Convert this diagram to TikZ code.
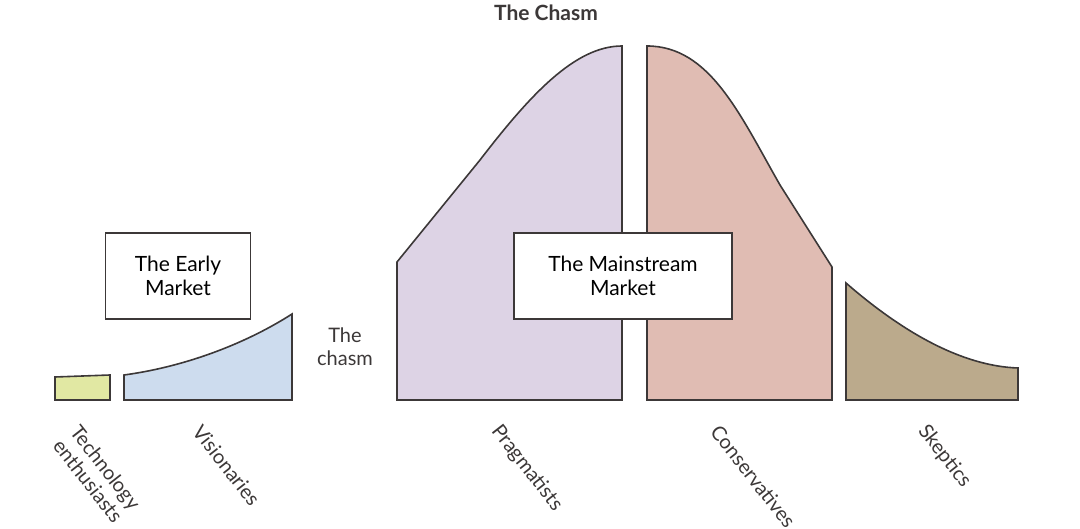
\documentclass[tikz,border=0pt]{standalone}
\usepackage{fontspec}
\setmainfont{Lato}
\usepackage{tikz}
\usetikzlibrary{positioning}

\definecolor{edgegray}{HTML}{3C3838}
\definecolor{techcol}{HTML}{E1E8A3}
\definecolor{viscol}{HTML}{CDDCEE}
\definecolor{pragcol}{HTML}{DDD3E5}
\definecolor{conscol}{HTML}{E0BCB3}
\definecolor{skepcol}{HTML}{BBAA8C}

\tikzset{
  segment/.style={draw=edgegray,line width=1.6pt,line join=miter},
  marketbox/.style={draw=edgegray,line width=1.6pt,fill=white,align=center,inner sep=0pt,font=\fontsize{21}{24}\selectfont},
  group/.style={rotate=-52,anchor=west,align=center,text=edgegray,font=\fontsize{20}{22}\selectfont}
}

\begin{document}
\begin{tikzpicture}[x=1pt,y=-1pt]
\useasboundingbox (0,0) rectangle (1080,529);
% the bell curve, cut in segments
\path[segment,fill=techcol] (55,400) -- (55,377) -- (110,375) -- (110,400) -- cycle;
\path[segment,fill=viscol] (124,400) -- (124,375) .. controls (190,366) and (250,341) .. (292,314) -- (292,400) -- cycle;
\path[segment,fill=pragcol] (397,400) -- (397,262) -- (480,160) .. controls (530,95) and (575,46) .. (622,46) -- (622,400) -- cycle;
\path[segment,fill=conscol] (647,400) -- (647,46) .. controls (710,46) and (740,115) .. (780,185) -- (832,267) -- (832,400) -- cycle;
\path[segment,fill=skepcol] (846,400) -- (846,283) .. controls (900,330) and (960,366) .. (1018,368) -- (1018,400) -- cycle;

\node[font=\bfseries\fontsize{21}{23}\selectfont,text=edgegray] (title) at (546,13) {The Chasm};
\node[marketbox,minimum width=145pt,minimum height=86pt] (early) at (178,276) {The Early\\Market};
\node[marketbox,minimum width=218pt,minimum height=86pt] (main) at (623,276) {The Mainstream\\Market};
\node[align=center,text=edgegray,font=\fontsize{20}{23}\selectfont] (gap) at (345,347) {The\\chasm};

% group labels
\node[group] (tech) at (64,432) {Technology\\enthusiasts};
\node[group] (vis) at (195,425) {Visionaries};
\node[group] (prag) at (493,425) {Pragmatists};
\node[group] (cons) at (713,425) {Conservatives};
\node[group] (skep) at (920,425) {Skeptics};
\end{tikzpicture}
\end{document}
